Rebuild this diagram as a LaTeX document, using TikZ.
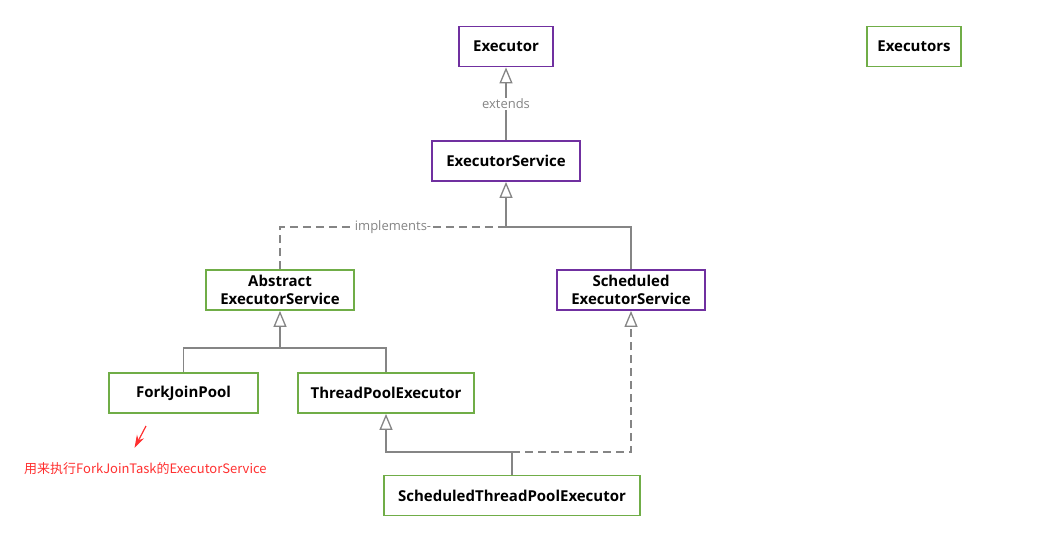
\documentclass[tikz,border=0pt]{standalone}
\usepackage{fontspec}
\setmainfont{Open Sans}
\newfontfamily\cjk{Noto Sans CJK SC}
\usetikzlibrary{arrows.meta}
\definecolor{ifacepurple}{HTML}{7030A0}
\definecolor{classgreen}{HTML}{70AD47}
\definecolor{linegray}{HTML}{858585}
\definecolor{notered}{HTML}{FF3030}

\begin{document}
\begin{tikzpicture}[x=1pt, y=-1pt,
  box/.style={draw, line width=1.8pt, fill=white, align=center,
    minimum height=40, inner sep=2pt,
    font=\fontsize{15}{18}\selectfont\bfseries},
  iface/.style={box, draw=ifacepurple},
  cls/.style={box, draw=classgreen},
  link/.style={draw=linegray, line width=1.3pt},
  dashlink/.style={link, dash pattern=on 8pt off 5pt},
  hollow/.style={-{Triangle[open, length=16pt, width=13pt, fill=white]}},
  tag/.style={fill=white, text=linegray, inner sep=1pt,
    font=\fontsize{13}{15}\selectfont}]
  \useasboundingbox (0,0) rectangle (1048,545);

  % interfaces
  \node[iface, minimum width=94]  (exec)  at (506,46.5) {Executor};
  \node[iface, minimum width=148] (esvc)  at (506,161)  {ExecutorService};
  \node[iface, minimum width=148] (sesvc) at (631,290)  {Scheduled\\ExecutorService};
  % classes
  \node[cls, minimum width=94]  (execs) at (914,46.5) {Executors};
  \node[cls, minimum width=148] (aesvc) at (280,290)  {Abstract\\ExecutorService};
  \node[cls, minimum width=149] (fjp)   at (183.5,393) {ForkJoinPool};
  \node[cls, minimum width=176] (tpe)   at (386,393)  {ThreadPoolExecutor};
  \node[cls, minimum width=256] (stpe)  at (512,495.5) {ScheduledThreadPoolExecutor};

  % joints
  \coordinate (jsvc)  at (506,227);
  \coordinate (jabs)  at (280,348);
  \coordinate (jtpe)  at (512,452);

  % extends
  \draw[link, hollow] (esvc) -- node[tag] {extends} (exec);

  % ExecutorService subtypes
  \draw[link, hollow] (jsvc) -- (esvc);
  \draw[dashlink] (aesvc.north) |- node[tag, pos=0.75] {implements-} (jsvc);
  \draw[link] (sesvc.north) |- (jsvc);

  % AbstractExecutorService subclasses
  \draw[link, hollow] (jabs) -- (aesvc);
  \draw[link] (fjp.north) |- (jabs);
  \draw[link] (tpe.north) |- (jabs);

  % ScheduledThreadPoolExecutor
  \draw[link] (stpe.north) -- (jtpe);
  \draw[link, hollow] (jtpe) -| (tpe.south);
  \draw[dashlink, hollow] (jtpe) -| (sesvc.south);

  % note
  \coordinate (notefrom) at (146,426);
  \coordinate (noteto)   at (134.5,448);
  \draw[notered, line width=1.2pt, -{Stealth[length=13pt, width=8pt]}] (notefrom) -- (noteto);
  \node[anchor=west, text=notered, inner sep=0pt, font=\fontsize{13}{15}\selectfont]
    (note) at (24,469) {\cjk 用来执行ForkJoinTask的ExecutorService};
\end{tikzpicture}
\end{document}
